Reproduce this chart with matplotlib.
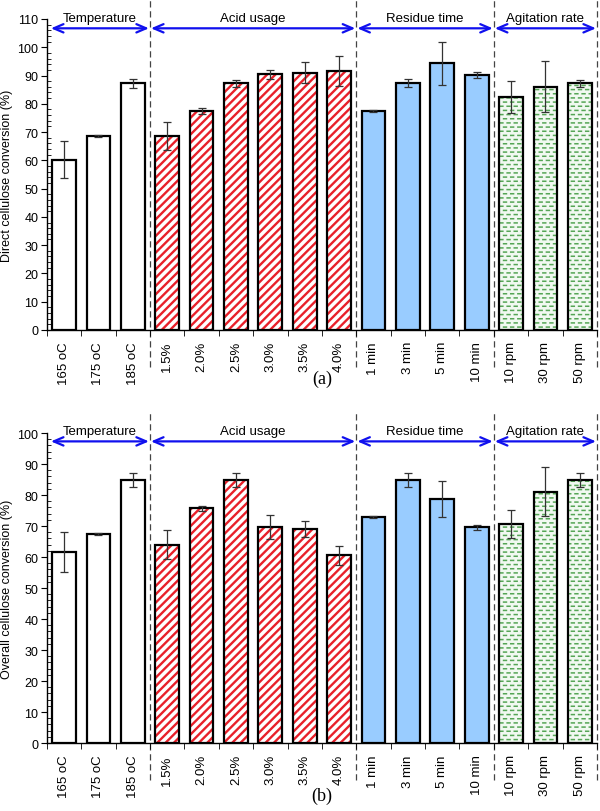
import numpy as np
import matplotlib
matplotlib.use("Agg")
import matplotlib.pyplot as plt
import matplotlib.hatch as mhatch
from matplotlib.path import Path
from matplotlib.ticker import MultipleLocator
from matplotlib.transforms import blended_transform_factory

# ---------- data ----------
labels = ["165 oC", "175 oC", "185 oC",
          "1.5%", "2.0%", "2.5%", "3.0%", "3.5%", "4.0%",
          "1 min", "3 min", "5 min", "10 min",
          "10 rpm", "30 rpm", "50 rpm"]
group_names = ["Temperature", "Acid usage", "Residue time", "Agitation rate"]
group_sizes = [3, 6, 4, 3]

direct_vals = [60.2, 68.5, 87.2, 68.5, 77.5, 87.2, 90.4, 91.0, 91.6,
               77.5, 87.2, 94.3, 90.2, 82.4, 86.1, 87.2]
direct_err = [6.6, 0.3, 1.5, 5.0, 1.0, 1.2, 1.6, 3.7, 5.3,
              0.4, 1.4, 7.5, 1.0, 5.5, 9.0, 1.2]
overall_vals = [61.7, 67.4, 84.8, 64.0, 75.8, 84.8, 69.6, 68.9, 60.5,
                72.8, 84.8, 78.6, 69.6, 70.6, 81.1, 84.8]
overall_err = [6.5, 0.2, 2.2, 4.6, 0.8, 2.2, 3.9, 2.6, 3.1,
               0.3, 2.2, 5.8, 0.8, 4.5, 7.9, 2.2]


# ---------- dashed hatch for the agitation bars (replaces '*') ----------
class DashHatch(mhatch.HatchPatternBase):
    def __init__(self, hatch, density):
        self.rows = 24 if "*" in hatch else 0
        self.cols = 14
        self.num_vertices = self.rows * self.cols * 2

    def set_vertices_and_codes(self, vertices, codes):
        k = 0
        for i in range(self.rows):
            y = (i + 0.5) / self.rows
            off = 0.5 * (i % 2)
            for j in range(self.cols):
                x0 = (j + off) / self.cols
                vertices[k] = (x0, y)
                vertices[k + 1] = (x0 + 0.4 / self.cols, y)
                codes[k] = Path.MOVETO
                codes[k + 1] = Path.LINETO
                k += 2


mhatch._hatch_types = [DashHatch if c is mhatch.Stars else c
                       for c in mhatch._hatch_types]

# styles per group
g_fill = ["white", "white", "#99ccff", "#f1f9f1"]
g_hatch = [None, "////", None, "*"]
g_hcol = ["black", "#e8202a", "black", "#55a555"]
g_hlw = [1.0, 1.7, 1.0, 1.1]

plt.rcParams["font.family"] = ["Liberation Sans", "DejaVu Sans"]

fig = plt.figure(figsize=(6, 8.12), dpi=100)
ax_a = fig.add_axes([0.078, 0.5924, 0.917, 0.3830])
ax_b = fig.add_axes([0.078, 0.0837, 0.917, 0.3818])

x = np.arange(len(labels))
bounds = np.cumsum(group_sizes) - 0.5   # 2.5, 8.5, 12.5, 15.5


def draw_panel(ax, vals, errs, ymax, arrow_y, ylab, caption, line_top, line_bot):
    start = 0
    for gi, n in enumerate(group_sizes):
        idx = x[start:start + n]
        v = vals[start:start + n]
        e = errs[start:start + n]
        if g_hatch[gi]:
            with plt.rc_context({"hatch.linewidth": g_hlw[gi]}):
                ax.bar(idx, v, width=0.69, color=g_fill[gi], edgecolor=g_hcol[gi],
                       hatch=g_hatch[gi], linewidth=0, zorder=2)
            ax.bar(idx, v, width=0.69, facecolor="none", edgecolor="black",
                   linewidth=1.6, zorder=3)
        else:
            ax.bar(idx, v, width=0.69, color=g_fill[gi], edgecolor="black",
                   linewidth=1.6, zorder=3)
        ax.errorbar(idx, v, yerr=e, fmt="none", ecolor="#333333",
                    elinewidth=0.9, capsize=3, capthick=0.9, zorder=4)
        start += n

    ax.set_xlim(-0.5, len(labels) - 0.5)
    ax.set_ylim(0, ymax)
    ax.yaxis.set_major_locator(MultipleLocator(10))
    ax.yaxis.set_minor_locator(MultipleLocator(2))
    ax.tick_params(axis="y", which="major", direction="out", length=4,
                   labelsize=9, pad=2)
    ax.tick_params(axis="y", which="minor", direction="in", length=3)
    ax.set_xticks(x)
    ax.set_xticklabels(labels, rotation=90, fontsize=9.5)
    ax.tick_params(axis="x", which="major", length=0, pad=8)
    ax.set_xticks(np.arange(len(labels) + 1) - 0.5, minor=True)
    ax.tick_params(axis="x", which="minor", direction="out", length=4)
    for s in ["top", "right"]:
        ax.spines[s].set_visible(False)
    ax.spines["left"].set_linewidth(1.0)
    ax.spines["bottom"].set_linewidth(1.0)
    ax.set_ylabel(ylab, fontsize=9, labelpad=3)

    # group separators
    tr = blended_transform_factory(ax.transData, ax.transAxes)
    for b in bounds:
        ax.plot([b, b], [line_bot, line_top], transform=tr, color="#444444",
                lw=0.9, ls=(0, (5, 3)), clip_on=False, zorder=1)

    # group arrows + names
    lefts = np.concatenate([[-0.38], bounds[:-1] + 0.03])
    rights = bounds - 0.03
    for name, l, r in zip(group_names, lefts, rights):
        ax.annotate("", xy=(l, arrow_y), xytext=(r, arrow_y),
                    arrowprops=dict(arrowstyle="<->,head_length=0.7,head_width=0.3",
                                    color="#1010ee", lw=1.6,
                                    shrinkA=0, shrinkB=0),
                    annotation_clip=False, zorder=5)
        ax.text((l + r) / 2, arrow_y + ymax * 0.032, name, ha="center",
                va="center", fontsize=9.5)

    ax.text(0.5, caption, "(a)" if ymax > 100 else "(b)", transform=ax.transAxes,
            ha="center", va="center", fontsize=13, family="Liberation Serif")


draw_panel(ax_a, direct_vals, direct_err, 110, 106.7,
           "Direct cellulose conversion (%)", -0.155, 1.065, -0.12)
draw_panel(ax_b, overall_vals, overall_err, 100, 97.3,
           "Overall cellulose conversion (%)", -0.17, 1.07, -0.12)

fig.savefig("out.png", dpi=100)
